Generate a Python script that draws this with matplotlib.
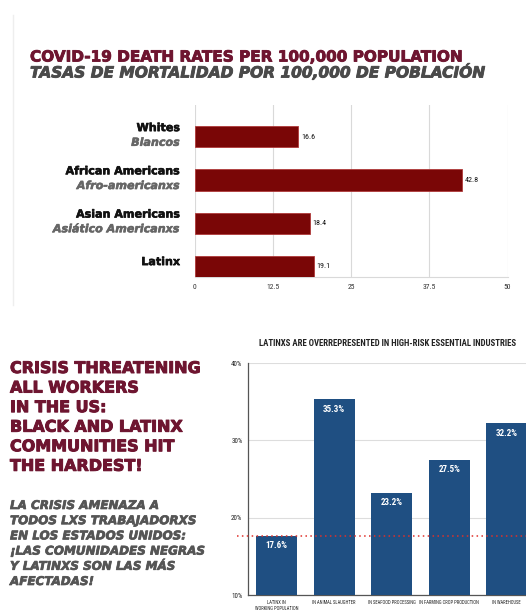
import matplotlib
matplotlib.use("Agg")
import matplotlib.pyplot as plt
from matplotlib import font_manager
from matplotlib import patheffects as pe
from matplotlib.lines import Line2D

# top chart data
groups_en = ["Whites", "African Americans", "Asian Americans", "Latinx"]
groups_es = ["Blancos", "Afro-americanxs", "Asiático Americanxs", ""]
death_rates = [16.6, 42.8, 18.4, 19.1]
rate_ticks = [0, 12.5, 25, 37.5, 50]
rate_tick_labels = ["0", "12.5", "25", "37.5", "50"]

# bottom chart data
industries = ["LATINX IN\nWORKING POPULATION", "IN ANIMAL SLAUGHTER", "IN SEAFOOD PROCESSING",
              "IN FARMING CROP PRODUCTION", "IN WAREHOUSE"]
latinx_share = [17.6, 35.3, 23.2, 27.5, 32.2]
share_ticks = [10, 20, 30, 40]
share_tick_labels = ["10%", "20%", "30%", "40%"]

MAROON = "#6e1530"
GRAY_TXT = "#555555"
RED_BAR = "#7a0606"
BLUE_BAR = "#1f4f82"

names = {f.name for f in font_manager.fontManager.ttflist}
narrow = "DejaVu Sans"
for cand in ["Liberation Sans Narrow", "DejaVu Sans Condensed", "Roboto Condensed"]:
    if cand in names:
        narrow = cand
        break

W, H = 526, 612
fig = plt.figure(figsize=(W / 100, H / 100), dpi=100)
fig.patch.set_facecolor("white")

def fx(px):
    return px / W

def fy(py):
    return 1 - py / H

def heavy(color, w=0.6):
    # thicken the bold glyphs a little
    return [pe.withStroke(linewidth=w, foreground=color)]

# faint panel edge on the left of the top card
fig.add_artist(Line2D([fx(13), fx(13)], [fy(15), fy(305)], color="#eeeeee", lw=1))

# titles
fig.text(fx(30), fy(57), "COVID-19 DEATH RATES PER 100,000 POPULATION", color=MAROON,
         fontsize=11, fontweight="bold", va="center", ha="left", path_effects=heavy(MAROON))
fig.text(fx(30), fy(72), "TASAS DE MORTALIDAD POR 100,000 DE POBLACIÓN", color="#4a4a4a",
         fontsize=11.1, fontweight="bold", style="italic", va="center", ha="left",
         path_effects=heavy("#4a4a4a"))

# ---- top horizontal bar chart
ax1 = fig.add_axes([fx(194.5), fy(277), fx(507.5) - fx(194.5), fy(105) - fy(277)])
ypos = list(range(len(groups_en)))
ax1.barh(ypos, death_rates, height=0.49, color=RED_BAR, edgecolor="#b03a3a", linewidth=0.6, zorder=3)
ax1.set_xlim(0, 50)
ax1.set_ylim(3.245, -0.735)
ax1.set_xticks(rate_ticks)
ax1.set_xticklabels(rate_tick_labels, fontsize=5.5, family=narrow, color="#333333")
ax1.tick_params(axis="x", length=0, pad=5)
ax1.set_yticks([])
ax1.grid(axis="x", color="#d9d9d9", lw=0.8, zorder=0)
for s in ["top", "right", "left"]:
    ax1.spines[s].set_visible(False)
ax1.spines["bottom"].set_color("#d9d9d9")
ax1.spines["bottom"].set_linewidth(0.8)
ax1.set_facecolor("none")

tr = ax1.get_yaxis_transform()
for i, (en, es, v) in enumerate(zip(groups_en, groups_es, death_rates)):
    if es:
        ax1.text(-0.047, i - 0.2, en, transform=tr, ha="right", va="center",
                 fontsize=8, fontweight="bold", color="#111111", path_effects=heavy("#111111", 0.4))
        ax1.text(-0.047, i + 0.14, es, transform=tr, ha="right", va="center",
                 fontsize=8, fontweight="bold", style="italic", color="#666666",
                 path_effects=heavy("#666666", 0.4))
    else:
        ax1.text(-0.047, i - 0.1, en, transform=tr, ha="right", va="center",
                 fontsize=8, fontweight="bold", color="#111111", path_effects=heavy("#111111", 0.4))
    ax1.text(v + 0.4, i, f"{v}", va="center", ha="left", fontsize=5.8,
             family=narrow, color="#111111")

# ---- left text block
head = "CRISIS THREATENING\nALL WORKERS\nIN THE US:\nBLACK AND LATINX\nCOMMUNITIES HIT\nTHE HARDEST!"
fig.text(fx(10), fy(361), head, color=MAROON, fontsize=11.5, fontweight="bold",
         ha="left", va="top", linespacing=1.38, path_effects=heavy(MAROON, 0.7))
sub = ("LA CRISIS AMENAZA A\nTODOS LXS TRABAJADORXS\nEN LOS ESTADOS UNIDOS:\n"
       "¡LAS COMUNIDADES NEGRAS\nY LATINXS SON LAS MÁS\nAFECTADAS!")
fig.text(fx(10), fy(499), sub, color=GRAY_TXT, fontsize=8.6, fontweight="bold",
         style="italic", ha="left", va="top", linespacing=1.22, path_effects=heavy(GRAY_TXT, 0.5))

# ---- bottom vertical bar chart
fig.text(fx(388), fy(344), "LATINXS ARE OVERREPRESENTED IN HIGH-RISK ESSENTIAL INDUSTRIES",
         family=narrow, fontsize=6.3, fontweight="bold", color="#222222", ha="center", va="center")

ax2 = fig.add_axes([fx(248), fy(595), fx(535.5) - fx(248), fy(363) - fy(595)])
xpos = list(range(len(industries)))
ax2.bar(xpos, latinx_share, width=0.71, color=BLUE_BAR, zorder=3, bottom=0)
ax2.set_ylim(10, 40)
ax2.set_xlim(-0.5, 4.5)
ax2.set_yticks(share_ticks)
ax2.set_yticklabels(share_tick_labels, fontsize=5, family=narrow, color="#222222")
ax2.set_xticks(xpos)
ax2.set_xticklabels(industries, fontsize=3.3, family=narrow, color="#222222", linespacing=1.4)
ax2.tick_params(axis="both", length=0, pad=4)
ax2.tick_params(axis="x", pad=3.5)
ax2.grid(axis="y", color="#dddddd", lw=0.8, zorder=0)
ax2.spines["top"].set_visible(False)
ax2.spines["right"].set_visible(False)
ax2.spines["left"].set_color("#555555")
ax2.spines["bottom"].set_color("#555555")
ax2.spines["left"].set_linewidth(0.9)
ax2.spines["bottom"].set_linewidth(0.9)
ax2.set_facecolor("none")
ax2.axhline(latinx_share[0], xmin=-0.04, xmax=1, color="#e0302a", lw=1.1,
            ls=(0, (1, 2.2)), zorder=4, clip_on=False)
for x, v in zip(xpos, latinx_share):
    ax2.annotate(f"{v}%", (x, v), xytext=(0, -7), textcoords="offset points",
                 ha="center", va="center", color="white", fontsize=6.5,
                 fontweight="bold", family=narrow, zorder=5)

fig.savefig("out.png", dpi=100)
